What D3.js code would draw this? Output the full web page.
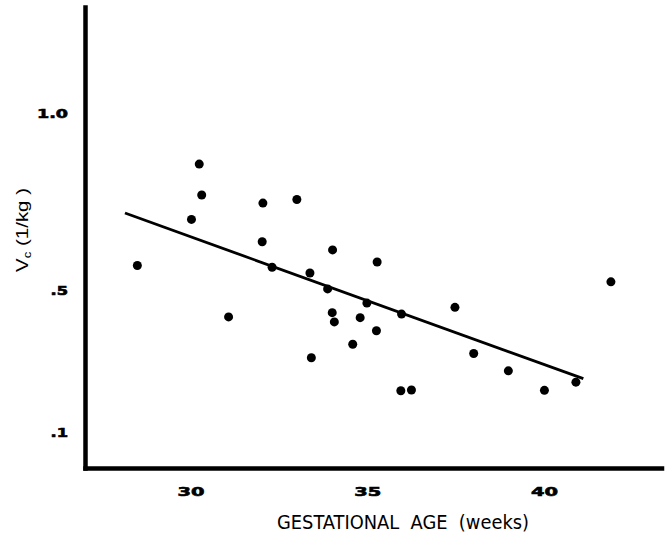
<!DOCTYPE html>
<html>
<head>
<meta charset="utf-8">
<script src="https://cdn.jsdelivr.net/npm/d3@7"></script>
<style>
  body { margin: 0; background: #fff; }
  svg { display: block; }
</style>
</head>
<body>
<div id="chart"></div>
<script>
// gestational age (weeks) and Vc (1/kg)
const ageWeeks = [28.50, 30.25, 30.32, 30.03, 31.08, 32.05, 32.03, 32.31, 33.01, 33.38,
                  33.42, 33.88, 34.02, 34.01, 34.07, 34.59, 34.80, 34.99, 35.26, 35.28,
                  35.97, 35.95, 36.25, 37.48, 38.01, 38.99, 40.01, 40.90, 41.89];
const vcValues = [0.571, 0.857, 0.770, 0.701, 0.426, 0.747, 0.638, 0.566, 0.757, 0.550,
                  0.311, 0.505, 0.615, 0.438, 0.412, 0.349, 0.424, 0.465, 0.387, 0.581,
                  0.434, 0.218, 0.220, 0.453, 0.323, 0.274, 0.219, 0.242, 0.525];
// regression line end points
const fitWeeks = [28.15, 41.11];
const fitVc = [0.719, 0.252];
const xTicks = [30, 35, 40];
const yTicks = [1.0, 0.5, 0.1];
const yTickLabels = ["1.0", ".5", ".1"];

const width = 668, height = 535;
const svg = d3.select("#chart").append("svg")
    .attr("width", width).attr("height", height);

const x = d3.scaleLinear().domain([27.02, 43.32]).range([85, 661.5]);
const y = d3.scaleLinear().domain([0, 1.3]).range([468, 7]);

// axes
const xAxis = svg.append("g")
    .attr("transform", "translate(0,468)")
    .call(d3.axisBottom(x).tickValues(xTicks).tickSize(0).tickSizeOuter(0).tickPadding(19));
const yAxis = svg.append("g")
    .attr("transform", "translate(85,0)")
    .call(d3.axisLeft(y).tickValues(yTicks).tickSize(0).tickSizeOuter(0).tickPadding(17)
        .tickFormat((d, i) => yTickLabels[i]));

[xAxis, yAxis].forEach(g => {
    g.select(".domain").attr("stroke", "#000").attr("stroke-width", 4.5)
        .attr("stroke-linecap", "square");
    g.selectAll("text")
        .attr("fill", "#000")
        .attr("stroke", "#000")
        .attr("stroke-width", 0.6)
        .style("font-family", "'DejaVu Sans', sans-serif")
        .style("font-weight", "bold")
        .style("font-size", "12px")
        .attr("lengthAdjust", "spacingAndGlyphs")
        .attr("textLength", function() {
            const s = d3.select(this).text();
            return s.replace(/\./g, "").length * 13.5 + (s.includes(".") ? 4 : 0);
        });
});

// regression line
svg.append("line")
    .attr("x1", x(fitWeeks[0])).attr("y1", y(fitVc[0]))
    .attr("x2", x(fitWeeks[1])).attr("y2", y(fitVc[1]))
    .attr("stroke", "#000").attr("stroke-width", 2.8);

// points
svg.selectAll("circle")
    .data(ageWeeks.map((w, i) => ({w: w, v: vcValues[i]})))
    .enter()
    .append("circle")
    .attr("cx", d => x(d.w))
    .attr("cy", d => y(d.v))
    .attr("r", 4.5)
    .attr("fill", "#000");

// axis titles
svg.append("text")
    .attr("x", 403).attr("y", 529)
    .attr("text-anchor", "middle")
    .attr("textLength", 252).attr("lengthAdjust", "spacingAndGlyphs")
    .style("white-space", "pre")
    .style("font-family", "'Liberation Sans Narrow', 'DejaVu Sans Condensed', sans-serif")
    .style("font-size", "19px")
    .text("GESTATIONAL  AGE  (weeks)");

const yLab = svg.append("text")
    .attr("transform", "translate(28,230) rotate(-90)")
    .attr("text-anchor", "middle")
    .attr("textLength", 84).attr("lengthAdjust", "spacingAndGlyphs")
    .style("white-space", "pre")
    .style("font-family", "'Liberation Sans', sans-serif")
    .style("font-size", "17px");
yLab.append("tspan").text("V");
yLab.append("tspan").attr("dy", 3).style("font-size", "11px").text("c");
yLab.append("tspan").attr("dy", -3).text(" (1/kg )");
</script>
</body>
</html>
